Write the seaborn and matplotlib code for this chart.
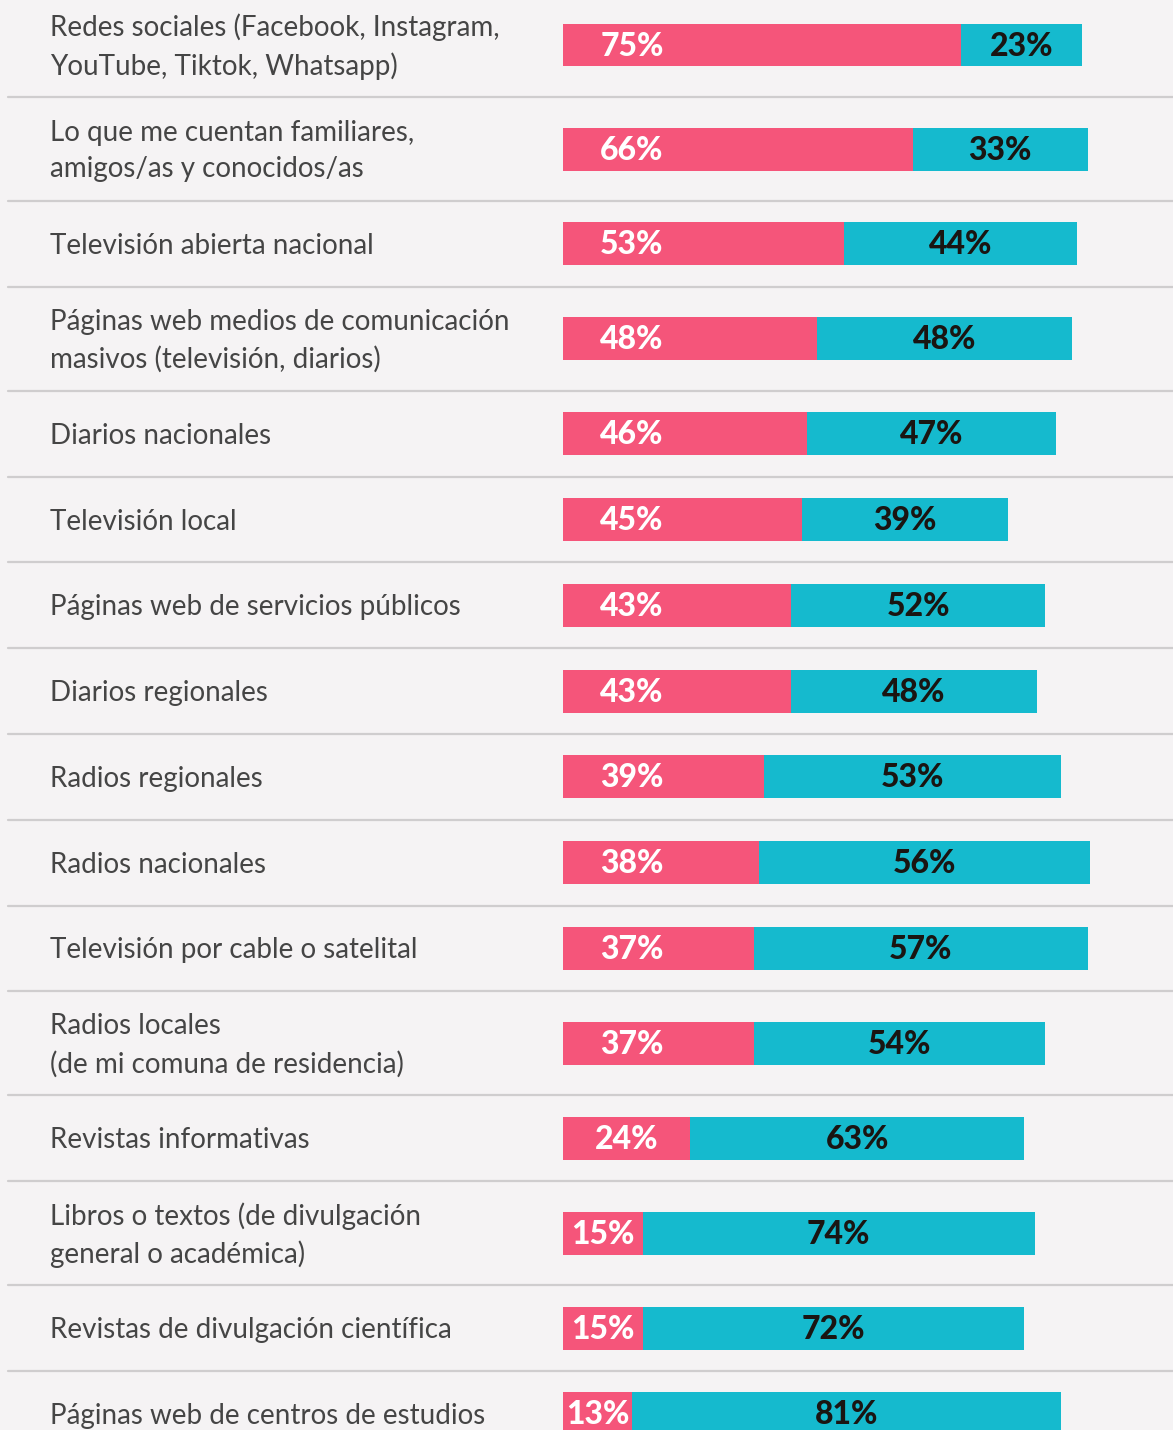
import numpy as np
import pandas as pd
import matplotlib
matplotlib.use("Agg")
import matplotlib.pyplot as plt
import seaborn as sns

# data
categories = [
    "Redes sociales (Facebook, Instagram,\nYouTube, Tiktok, Whatsapp)",
    "Lo que me cuentan familiares,\namigos/as y conocidos/as",
    "Televisión abierta nacional",
    "Páginas web medios de comunicación\nmasivos (televisión, diarios)",
    "Diarios nacionales",
    "Televisión local",
    "Páginas web de servicios públicos",
    "Diarios regionales",
    "Radios regionales",
    "Radios nacionales",
    "Televisión por cable o satelital",
    "Radios locales\n(de mi comuna de residencia)",
    "Revistas informativas",
    "Libros o textos (de divulgación\ngeneral o académica)",
    "Revistas de divulgación científica",
    "Páginas web de centros de estudios",
]
# printed labels
pink_labels = [75, 66, 53, 48, 46, 45, 43, 43, 39, 38, 37, 37, 24, 15, 15, 13]
cyan_labels = [23, 33, 44, 48, 47, 39, 52, 48, 53, 56, 57, 54, 63, 74, 72, 81]
# bar lengths as drawn in the picture
pink_vals = [75, 66, 53, 48, 46, 45, 43, 43, 38, 37, 36, 36, 24, 15, 15, 13]
cyan_vals = [23, 33, 44, 48, 47, 39, 48, 46.5, 56, 62.5, 63, 55, 63, 74, 72, 81]

PINK = "#F5557A"
CYAN = "#15BACE"
BG = "#F5F3F4"

# layout in pixels (y) and percent (x)
W, H = 1173, 1430
x0_px, px_per_pct = 563, 5.3
single_h, double_h = 85.8, 104

heights = [double_h if "\n" in c else single_h for c in categories]
tops = -7 + np.concatenate([[0], np.cumsum(heights)[:-1]])
centers = tops + np.array(heights) / 2
bottoms = tops + np.array(heights)

df = pd.DataFrame({
    "cat": categories,
    "pos": centers,
    "pink": pink_vals,
    "cyan": cyan_vals,
    "pink_lab": pink_labels,
    "cyan_lab": cyan_labels,
})
df["total"] = df["pink"] + df["cyan"]

sns.set_theme(style="white")
plt.rcParams["font.family"] = ["Lato", "DejaVu Sans"]

fig = plt.figure(figsize=(W / 100, H / 100), dpi=100, facecolor=BG)
ax = fig.add_axes([0, 0, 1, 1])
ax.set_facecolor(BG)

bar_w = 43 / single_h
sns.barplot(data=df, x="total", y="pos", orient="y", native_scale=True,
            color=CYAN, width=bar_w, saturation=1, linewidth=0, ax=ax)
sns.barplot(data=df, x="pink", y="pos", orient="y", native_scale=True,
            color=PINK, width=bar_w, saturation=1, linewidth=0, ax=ax)

ax.set_xlim(-x0_px / px_per_pct, (W - x0_px) / px_per_pct)
ax.set_ylim(H, 0)
ax.axis("off")

# separators
for b in bottoms[:-1]:
    ax.axhline(b, xmin=8 / W, xmax=1, color="#CFCDCE", lw=1.6)

label_x = (50 - x0_px) / px_per_pct
for _, r in df.iterrows():
    ax.text(label_x, r["pos"] + 2, r["cat"], ha="left", va="center",
            fontsize=20, color="#454545", linespacing=1.5)
    px = min(13, r["pink"] / 2)
    ax.text(px, r["pos"] + 1, f"{r['pink_lab']}%", ha="center", va="center",
            fontsize=23, fontweight="black", color="white")
    cx = r["pink"] + r["cyan"] / 2
    ax.text(cx, r["pos"] + 1, f"{r['cyan_lab']}%", ha="center", va="center",
            fontsize=23, fontweight="black", color="#1A1512")

fig.savefig("out.png", dpi=100, facecolor=BG)
